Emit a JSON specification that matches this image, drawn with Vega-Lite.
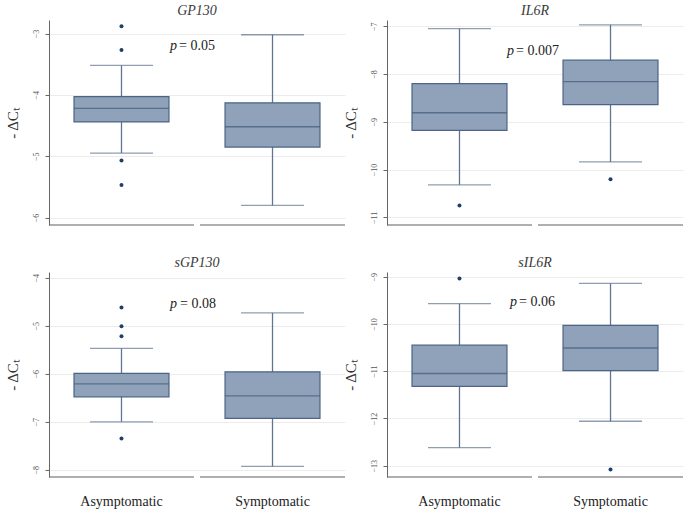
{
  "$schema": "https://vega.github.io/schema/vega-lite/v6.json",
  "background": "white",
  "padding": {"left": 5, "top": 4, "right": 3, "bottom": 5},
  "config": {
    "view": {"stroke": null},
    "font": "Liberation Serif",
    "title": {"font": "Liberation Serif", "fontSize": 14, "fontStyle": "italic", "fontWeight": "normal", "color": "#3a3a3a", "offset": 2, "anchor": "middle"},
    "axisY": {"domainColor": "#666", "tickColor": "#666", "tickSize": 4, "labelAngle": -90, "labelFontSize": 8, "labelColor": "#555", "labelPadding": 5, "gridColor": "#ececec", "format": "d", "titleFont": "Liberation Serif", "titleFontSize": 15, "titleFontWeight": "normal", "titleColor": "#333", "titlePadding": 12},
    "axisX": {"domain": false, "ticks": false, "labelFontSize": 14, "labelColor": "#222", "labelPadding": 17, "labelAngle": 0, "labelFont": "Liberation Serif"}
  },
  "datasets": {
    "stats": [
      {"panel": "GP130", "group": "Asymptomatic", "lo": -4.95, "q1": -4.44, "med": -4.22, "q3": -4.03, "hi": -3.52},
      {"panel": "GP130", "group": "Symptomatic", "lo": -5.80, "q1": -4.85, "med": -4.52, "q3": -4.13, "hi": -3.02},
      {"panel": "IL6R", "group": "Asymptomatic", "lo": -10.32, "q1": -9.18, "med": -8.81, "q3": -8.20, "hi": -7.05},
      {"panel": "IL6R", "group": "Symptomatic", "lo": -9.84, "q1": -8.64, "med": -8.16, "q3": -7.71, "hi": -6.97},
      {"panel": "sGP130", "group": "Asymptomatic", "lo": -7.00, "q1": -6.48, "med": -6.21, "q3": -5.99, "hi": -5.47},
      {"panel": "sGP130", "group": "Symptomatic", "lo": -7.93, "q1": -6.93, "med": -6.46, "q3": -5.96, "hi": -4.73},
      {"panel": "sIL6R", "group": "Asymptomatic", "lo": -12.62, "q1": -11.32, "med": -11.05, "q3": -10.45, "hi": -9.57},
      {"panel": "sIL6R", "group": "Symptomatic", "lo": -12.06, "q1": -10.99, "med": -10.51, "q3": -10.03, "hi": -9.14}
    ],
    "outliers": [
      {"panel": "GP130", "group": "Asymptomatic", "value": -2.88},
      {"panel": "GP130", "group": "Asymptomatic", "value": -3.27},
      {"panel": "GP130", "group": "Asymptomatic", "value": -5.07},
      {"panel": "GP130", "group": "Asymptomatic", "value": -5.47},
      {"panel": "IL6R", "group": "Asymptomatic", "value": -10.75},
      {"panel": "IL6R", "group": "Symptomatic", "value": -10.20},
      {"panel": "sGP130", "group": "Asymptomatic", "value": -4.62},
      {"panel": "sGP130", "group": "Asymptomatic", "value": -5.01},
      {"panel": "sGP130", "group": "Asymptomatic", "value": -5.22},
      {"panel": "sGP130", "group": "Asymptomatic", "value": -7.35},
      {"panel": "sIL6R", "group": "Asymptomatic", "value": -9.04},
      {"panel": "sIL6R", "group": "Symptomatic", "value": -13.08}
    ],
    "pvals": [
      {"panel": "GP130", "p": "p", "val": "= 0.05"},
      {"panel": "IL6R", "p": "p", "val": "= 0.007"},
      {"panel": "sGP130", "p": "p", "val": "= 0.08"},
      {"panel": "sIL6R", "p": "p", "val": "= 0.06"}
    ]
  },
  "columns": 2,
  "spacing": {"row": 30, "column": -3},
  "concat": [
    {
      "width": 296, "height": 205,
      "title": {"text": "GP130", "fontWeight": "normal"},
      "layer": [
        {"data": {"name": "stats"}, "transform": [{"filter": "datum.panel === 'GP130'"}],
         "mark": {"type": "rule", "color": "#5f7590", "strokeWidth": 1.3},
         "encoding": {
           "x": {"field": "group", "type": "nominal", "title": null, "scale": {"domain": ["Asymptomatic", "Symptomatic"], "paddingInner": 0.04, "paddingOuter": 0}, "axis": {"labels": false, "title": null}},
           "y": {"field": "lo", "type": "quantitative", "title": "- ΔCₜ", "scale": {"domain": [-6.12, -2.78], "nice": false, "zero": false}, "axis": {"values": [-3, -4, -5, -6], "title": "- ΔCₜ"}},
           "y2": {"field": "hi"}}},
        {"data": {"name": "stats"}, "transform": [{"filter": "datum.panel === 'GP130'"}],
         "mark": {"type": "tick", "color": "#5f7590", "size": 63, "thickness": 1.3},
         "encoding": {"x": {"field": "group", "type": "nominal"}, "y": {"field": "lo", "type": "quantitative"}}},
        {"data": {"name": "stats"}, "transform": [{"filter": "datum.panel === 'GP130'"}],
         "mark": {"type": "tick", "color": "#5f7590", "size": 63, "thickness": 1.3},
         "encoding": {"x": {"field": "group", "type": "nominal"}, "y": {"field": "hi", "type": "quantitative"}}},
        {"data": {"name": "stats"}, "transform": [{"filter": "datum.panel === 'GP130'"}],
         "mark": {"type": "bar", "fill": "#8fa2b9", "stroke": "#4b6585", "strokeWidth": 1.2, "width": {"band": 0.655}},
         "encoding": {"x": {"field": "group", "type": "nominal"}, "y": {"field": "q1", "type": "quantitative"}, "y2": {"field": "q3"}}},
        {"data": {"name": "stats"}, "transform": [{"filter": "datum.panel === 'GP130'"}],
         "mark": {"type": "tick", "color": "#3f5a7a", "size": 95, "thickness": 1.4},
         "encoding": {"x": {"field": "group", "type": "nominal"}, "y": {"field": "med", "type": "quantitative"}}},
        {"data": {"name": "outliers"}, "transform": [{"filter": "datum.panel === 'GP130'"}],
         "mark": {"type": "circle", "color": "#1e3f66", "size": 16, "opacity": 1},
         "encoding": {"x": {"field": "group", "type": "nominal"}, "y": {"field": "value", "type": "quantitative"}}},
        {"data": {"values": [{"group": "Asymptomatic"}, {"group": "Symptomatic"}]},
         "mark": {"type": "tick", "color": "#666", "size": 145, "thickness": 1.5},
         "encoding": {"x": {"field": "group", "type": "nominal"}, "y": {"datum": -6.12}}},
        {"data": {"name": "pvals"}, "transform": [{"filter": "datum.panel === 'GP130'"}],
         "mark": {"type": "text", "fontSize": 14, "fontStyle": "italic", "align": "right", "baseline": "middle", "dx": -23, "color": "#222"},
         "encoding": {"x": {"datum": "Symptomatic", "bandPosition": 0}, "y": {"datum": -3.21}, "text": {"field": "p"}}},
        {"data": {"name": "pvals"}, "transform": [{"filter": "datum.panel === 'GP130'"}],
         "mark": {"type": "text", "fontSize": 14, "align": "left", "baseline": "middle", "dx": -21, "color": "#222"},
         "encoding": {"x": {"datum": "Symptomatic", "bandPosition": 0}, "y": {"datum": -3.21}, "text": {"field": "val"}}}
      ]
    },
    {
      "width": 296, "height": 205,
      "title": {"text": "IL6R", "fontWeight": "normal"},
      "layer": [
        {"data": {"name": "stats"}, "transform": [{"filter": "datum.panel === 'IL6R'"}],
         "mark": {"type": "rule", "color": "#5f7590", "strokeWidth": 1.3},
         "encoding": {
           "x": {"field": "group", "type": "nominal", "title": null, "scale": {"domain": ["Asymptomatic", "Symptomatic"], "paddingInner": 0.04, "paddingOuter": 0}, "axis": {"labels": false, "title": null}},
           "y": {"field": "lo", "type": "quantitative", "title": "- ΔCₜ", "scale": {"domain": [-11.16, -6.87], "nice": false, "zero": false}, "axis": {"values": [-7, -8, -9, -10, -11], "title": "- ΔCₜ"}},
           "y2": {"field": "hi"}}},
        {"data": {"name": "stats"}, "transform": [{"filter": "datum.panel === 'IL6R'"}],
         "mark": {"type": "tick", "color": "#5f7590", "size": 63, "thickness": 1.3},
         "encoding": {"x": {"field": "group", "type": "nominal"}, "y": {"field": "lo", "type": "quantitative"}}},
        {"data": {"name": "stats"}, "transform": [{"filter": "datum.panel === 'IL6R'"}],
         "mark": {"type": "tick", "color": "#5f7590", "size": 63, "thickness": 1.3},
         "encoding": {"x": {"field": "group", "type": "nominal"}, "y": {"field": "hi", "type": "quantitative"}}},
        {"data": {"name": "stats"}, "transform": [{"filter": "datum.panel === 'IL6R'"}],
         "mark": {"type": "bar", "fill": "#8fa2b9", "stroke": "#4b6585", "strokeWidth": 1.2, "width": {"band": 0.655}},
         "encoding": {"x": {"field": "group", "type": "nominal"}, "y": {"field": "q1", "type": "quantitative"}, "y2": {"field": "q3"}}},
        {"data": {"name": "stats"}, "transform": [{"filter": "datum.panel === 'IL6R'"}],
         "mark": {"type": "tick", "color": "#3f5a7a", "size": 95, "thickness": 1.4},
         "encoding": {"x": {"field": "group", "type": "nominal"}, "y": {"field": "med", "type": "quantitative"}}},
        {"data": {"name": "outliers"}, "transform": [{"filter": "datum.panel === 'IL6R'"}],
         "mark": {"type": "circle", "color": "#1e3f66", "size": 16, "opacity": 1},
         "encoding": {"x": {"field": "group", "type": "nominal"}, "y": {"field": "value", "type": "quantitative"}}},
        {"data": {"values": [{"group": "Asymptomatic"}, {"group": "Symptomatic"}]},
         "mark": {"type": "tick", "color": "#666", "size": 145, "thickness": 1.5},
         "encoding": {"x": {"field": "group", "type": "nominal"}, "y": {"datum": -11.16}}},
        {"data": {"name": "pvals"}, "transform": [{"filter": "datum.panel === 'IL6R'"}],
         "mark": {"type": "text", "fontSize": 14, "fontStyle": "italic", "align": "right", "baseline": "middle", "dx": -24, "color": "#222"},
         "encoding": {"x": {"datum": "Symptomatic", "bandPosition": 0}, "y": {"datum": -7.52}, "text": {"field": "p"}}},
        {"data": {"name": "pvals"}, "transform": [{"filter": "datum.panel === 'IL6R'"}],
         "mark": {"type": "text", "fontSize": 14, "align": "left", "baseline": "middle", "dx": -22, "color": "#222"},
         "encoding": {"x": {"datum": "Symptomatic", "bandPosition": 0}, "y": {"datum": -7.52}, "text": {"field": "val"}}}
      ]
    },
    {
      "width": 296, "height": 205,
      "title": {"text": "sGP130", "fontWeight": "normal"},
      "layer": [
        {"data": {"name": "stats"}, "transform": [{"filter": "datum.panel === 'sGP130'"}],
         "mark": {"type": "rule", "color": "#5f7590", "strokeWidth": 1.3},
         "encoding": {
           "x": {"field": "group", "type": "nominal", "title": null, "scale": {"domain": ["Asymptomatic", "Symptomatic"], "paddingInner": 0.04, "paddingOuter": 0}, "axis": {"labels": true, "title": null}},
           "y": {"field": "lo", "type": "quantitative", "title": "- ΔCₜ", "scale": {"domain": [-8.15, -3.88], "nice": false, "zero": false}, "axis": {"values": [-4, -5, -6, -7, -8], "title": "- ΔCₜ"}},
           "y2": {"field": "hi"}}},
        {"data": {"name": "stats"}, "transform": [{"filter": "datum.panel === 'sGP130'"}],
         "mark": {"type": "tick", "color": "#5f7590", "size": 63, "thickness": 1.3},
         "encoding": {"x": {"field": "group", "type": "nominal"}, "y": {"field": "lo", "type": "quantitative"}}},
        {"data": {"name": "stats"}, "transform": [{"filter": "datum.panel === 'sGP130'"}],
         "mark": {"type": "tick", "color": "#5f7590", "size": 63, "thickness": 1.3},
         "encoding": {"x": {"field": "group", "type": "nominal"}, "y": {"field": "hi", "type": "quantitative"}}},
        {"data": {"name": "stats"}, "transform": [{"filter": "datum.panel === 'sGP130'"}],
         "mark": {"type": "bar", "fill": "#8fa2b9", "stroke": "#4b6585", "strokeWidth": 1.2, "width": {"band": 0.655}},
         "encoding": {"x": {"field": "group", "type": "nominal"}, "y": {"field": "q1", "type": "quantitative"}, "y2": {"field": "q3"}}},
        {"data": {"name": "stats"}, "transform": [{"filter": "datum.panel === 'sGP130'"}],
         "mark": {"type": "tick", "color": "#3f5a7a", "size": 95, "thickness": 1.4},
         "encoding": {"x": {"field": "group", "type": "nominal"}, "y": {"field": "med", "type": "quantitative"}}},
        {"data": {"name": "outliers"}, "transform": [{"filter": "datum.panel === 'sGP130'"}],
         "mark": {"type": "circle", "color": "#1e3f66", "size": 16, "opacity": 1},
         "encoding": {"x": {"field": "group", "type": "nominal"}, "y": {"field": "value", "type": "quantitative"}}},
        {"data": {"values": [{"group": "Asymptomatic"}, {"group": "Symptomatic"}]},
         "mark": {"type": "tick", "color": "#666", "size": 145, "thickness": 1.5},
         "encoding": {"x": {"field": "group", "type": "nominal"}, "y": {"datum": -8.15}}},
        {"data": {"name": "pvals"}, "transform": [{"filter": "datum.panel === 'sGP130'"}],
         "mark": {"type": "text", "fontSize": 14, "fontStyle": "italic", "align": "right", "baseline": "middle", "dx": -23, "color": "#222"},
         "encoding": {"x": {"datum": "Symptomatic", "bandPosition": 0}, "y": {"datum": -4.55}, "text": {"field": "p"}}},
        {"data": {"name": "pvals"}, "transform": [{"filter": "datum.panel === 'sGP130'"}],
         "mark": {"type": "text", "fontSize": 14, "align": "left", "baseline": "middle", "dx": -20, "color": "#222"},
         "encoding": {"x": {"datum": "Symptomatic", "bandPosition": 0}, "y": {"datum": -4.55}, "text": {"field": "val"}}}
      ]
    },
    {
      "width": 296, "height": 205,
      "title": {"text": "sIL6R", "fontWeight": "normal"},
      "layer": [
        {"data": {"name": "stats"}, "transform": [{"filter": "datum.panel === 'sIL6R'"}],
         "mark": {"type": "rule", "color": "#5f7590", "strokeWidth": 1.3},
         "encoding": {
           "x": {"field": "group", "type": "nominal", "title": null, "scale": {"domain": ["Asymptomatic", "Symptomatic"], "paddingInner": 0.04, "paddingOuter": 0}, "axis": {"labels": true, "title": null}},
           "y": {"field": "lo", "type": "quantitative", "title": "- ΔCₜ", "scale": {"domain": [-13.24, -8.9], "nice": false, "zero": false}, "axis": {"values": [-9, -10, -11, -12, -13], "title": "- ΔCₜ"}},
           "y2": {"field": "hi"}}},
        {"data": {"name": "stats"}, "transform": [{"filter": "datum.panel === 'sIL6R'"}],
         "mark": {"type": "tick", "color": "#5f7590", "size": 63, "thickness": 1.3},
         "encoding": {"x": {"field": "group", "type": "nominal"}, "y": {"field": "lo", "type": "quantitative"}}},
        {"data": {"name": "stats"}, "transform": [{"filter": "datum.panel === 'sIL6R'"}],
         "mark": {"type": "tick", "color": "#5f7590", "size": 63, "thickness": 1.3},
         "encoding": {"x": {"field": "group", "type": "nominal"}, "y": {"field": "hi", "type": "quantitative"}}},
        {"data": {"name": "stats"}, "transform": [{"filter": "datum.panel === 'sIL6R'"}],
         "mark": {"type": "bar", "fill": "#8fa2b9", "stroke": "#4b6585", "strokeWidth": 1.2, "width": {"band": 0.655}},
         "encoding": {"x": {"field": "group", "type": "nominal"}, "y": {"field": "q1", "type": "quantitative"}, "y2": {"field": "q3"}}},
        {"data": {"name": "stats"}, "transform": [{"filter": "datum.panel === 'sIL6R'"}],
         "mark": {"type": "tick", "color": "#3f5a7a", "size": 95, "thickness": 1.4},
         "encoding": {"x": {"field": "group", "type": "nominal"}, "y": {"field": "med", "type": "quantitative"}}},
        {"data": {"name": "outliers"}, "transform": [{"filter": "datum.panel === 'sIL6R'"}],
         "mark": {"type": "circle", "color": "#1e3f66", "size": 16, "opacity": 1},
         "encoding": {"x": {"field": "group", "type": "nominal"}, "y": {"field": "value", "type": "quantitative"}}},
        {"data": {"values": [{"group": "Asymptomatic"}, {"group": "Symptomatic"}]},
         "mark": {"type": "tick", "color": "#666", "size": 145, "thickness": 1.5},
         "encoding": {"x": {"field": "group", "type": "nominal"}, "y": {"datum": -13.24}}},
        {"data": {"name": "pvals"}, "transform": [{"filter": "datum.panel === 'sIL6R'"}],
         "mark": {"type": "text", "fontSize": 14, "fontStyle": "italic", "align": "right", "baseline": "middle", "dx": -21, "color": "#222"},
         "encoding": {"x": {"datum": "Symptomatic", "bandPosition": 0}, "y": {"datum": -9.53}, "text": {"field": "p"}}},
        {"data": {"name": "pvals"}, "transform": [{"filter": "datum.panel === 'sIL6R'"}],
         "mark": {"type": "text", "fontSize": 14, "align": "left", "baseline": "middle", "dx": -19, "color": "#222"},
         "encoding": {"x": {"datum": "Symptomatic", "bandPosition": 0}, "y": {"datum": -9.53}, "text": {"field": "val"}}}
      ]
    }
  ]
}
